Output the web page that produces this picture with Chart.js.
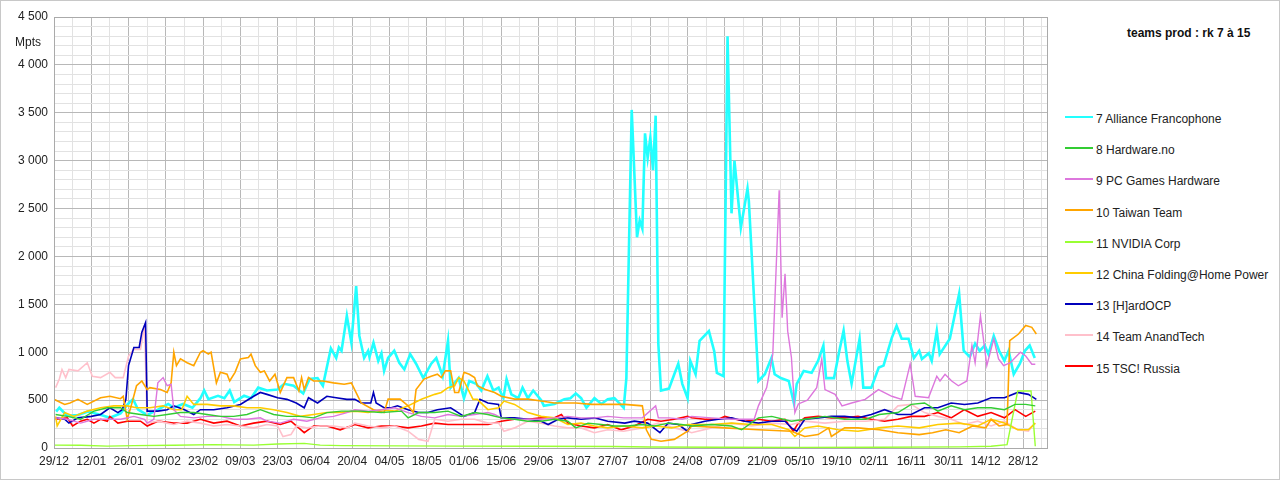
<!DOCTYPE html>
<html><head><meta charset="utf-8">
<script src="https://cdn.jsdelivr.net/npm/chart.js@4"></script>
<style>
body{margin:0;background:#fff;font-family:"Liberation Sans",Arial,sans-serif;}
#wrap{position:relative;width:1278px;height:478px;border:1px solid #c8c8c8;}
#c{position:absolute;left:0;top:0;}
#mpts{position:absolute;left:14px;top:34px;font-size:12px;color:#222;}
#title{position:absolute;left:1126px;top:25px;font-size:12px;font-weight:bold;color:#111;}
.lg{position:absolute;left:1064px;font-size:12px;color:#222;height:16px;line-height:16px;}
.lg span{display:inline-block;width:28px;height:2px;vertical-align:middle;margin-right:3px;position:relative;top:-3px;}
</style></head><body>
<div id="wrap"><canvas id="c" width="1050" height="478"></canvas>
<div id="mpts">Mpts</div><div id="title">teams prod : rk 7 à 15</div><div id="legend"></div></div>
<script>
const dateLabels=["29/12","12/01","26/01","09/02","23/02","09/03","23/03","06/04","20/04","04/05","18/05","01/06","15/06","29/06","13/07","27/07","10/08","24/08","07/09","21/09","05/10","19/10","02/11","16/11","30/11","14/12","28/12"];
const seriesNames=["7 Alliance Francophone","8 Hardware.no","9 PC Games Hardware","10 Taiwan Team","11 NVIDIA Corp","12 China Folding@Home Power","13 [H]ardOCP","14 Team AnandTech","15 TSC! Russia"];
// [day, Mpts]
const alliance=[[0.8,380],[2,420],[5,335],[9,345],[12.8,380],[17.7,345],[21,315],[25,360],[27.8,460],[29.7,510],[31.6,400],[35,345],[39,400],[42.9,460],[45,420],[48.5,460],[52,420],[55,520],[56.4,600],[58,510],[61.6,545],[64,520],[66,600],[67.7,480],[71.4,545],[74,520],[76.7,630],[80,600],[84,610],[86.5,670],[90,650],[93.6,570],[96,720],[99,730],[101,650],[104,1040],[106,940],[107,1050],[108,1015],[110,1380],[111.7,1100],[113.5,1690],[114.7,1170],[116.5,940],[118,1015],[118.5,950],[120,1100],[121.8,910],[123,990],[124,805],[125.5,940],[127.8,1015],[129.7,890],[131.6,820],[133.8,980],[136,880],[138.7,730],[141.7,880],[143.6,940],[146,750],[148,1120],[149,630],[152,730],[154,520],[156,700],[158.6,670],[160.5,600],[162.8,750],[165,600],[167,630],[168.8,520],[170,720],[171.8,560],[174.4,520],[176,630],[178,520],[180,600],[183,500],[184,440],[188,460],[191.7,510],[194,520],[196,570],[198,520],[200,420],[203,520],[205.6,460],[208,510],[210.5,520],[214,420],[215,730],[217,3530],[219,2200],[220,2375],[221,2290],[222,3285],[223,3030],[224,3240],[225,2900],[226,3470],[227,1090],[228,600],[231,620],[233,770],[234.5,880],[236,670],[238,520],[239,910],[241,770],[242.5,1120],[246,1220],[248,1010],[249,785],[251.5,750],[253,4300],[254.5,2450],[255.6,3000],[258,2300],[260.5,2710],[261,2580],[264.6,700],[267,770],[269.5,940],[270.7,770],[273,730],[276,700],[278,460],[279,670],[281.6,805],[284.6,785],[287,910],[289,1070],[290,730],[293,730],[295,1015],[296.6,1225],[298,910],[299.6,670],[302.6,1140],[304,630],[307,630],[309.8,840],[311.6,860],[314.7,1150],[316.5,1275],[318.4,1140],[321,1140],[323,940],[325,1015],[326,930],[328.6,990],[329.7,910],[331.6,1225],[332.7,980],[336.5,1140],[340,1610],[341.7,1015],[344,950],[346,1090],[347.7,1015],[349.6,1070],[351,980],[353,1170],[355,1015],[357,910],[358.6,1015],[360.5,770],[362.8,880],[364.7,1015],[366.5,1070],[368.4,940]];
const hardwareNo=[[0.6,350],[5,330],[10,300],[15,385],[20,420],[25,420],[27.5,370],[32.5,350],[37.5,330],[42.5,350],[47.5,370],[52.5,370],[57.5,350],[62.5,330],[67.5,330],[72.5,350],[77.5,400],[82.5,350],[87.5,330],[92.5,330],[97.5,315],[102.5,370],[108,385],[115,385],[123,370],[130.5,385],[133,315],[137,370],[143,370],[148,385],[153,330],[158,370],[163,350],[168,315],[173,300],[178,280],[183,280],[188,300],[193,280],[196,210],[200.6,260],[205.6,245],[210.6,230],[215.6,230],[220.6,245],[225.7,230],[230.7,260],[235.7,245],[239.5,230],[247,245],[254.5,230],[258.3,190],[264.6,315],[269.6,330],[277,280],[282,300],[289.6,330],[297,300],[305,300],[310,350],[317,370],[322,455],[327,470],[332,385],[337,440],[342,400],[347,420],[352,420],[357,400],[361,455],[365,455],[368.6,440]];
const pcgh=[[0.6,315],[5,300],[10,260],[15,300],[20,300],[25,300],[30,330],[34,300],[35,260],[37.5,300],[39,680],[41,735],[42.5,650],[44,665],[45,400],[47.5,330],[52.5,315],[57.5,330],[62.5,330],[67.5,300],[72.5,300],[77.5,315],[80,280],[85,260],[90,300],[95,280],[100,315],[105,330],[110,370],[113,400],[118,385],[123,400],[128,420],[133,370],[138,330],[143,315],[148,350],[153,330],[158,350],[163,370],[165.5,350],[168,315],[173,300],[178,300],[183,300],[188,315],[193,330],[198,315],[203,315],[208,330],[214,315],[221,315],[226,440],[227,315],[231,315],[236,300],[239.5,330],[247,315],[254.5,300],[263,300],[264.6,440],[267.7,630],[270,980],[272.4,2690],[273.5,1360],[274.6,1820],[275.6,1220],[277,945],[278.3,370],[279.6,460],[283,500],[286.5,630],[288.4,930],[289.6,610],[293.4,560],[296,440],[299.6,470],[304.7,508],[309.7,610],[314.7,540],[318.4,508],[321.6,875],[323.5,540],[328.5,525],[331.6,750],[332.8,700],[334.7,770],[337.2,700],[339.7,650],[342.9,700],[344.8,1070],[346,890],[348,1380],[350.4,860],[353,1140],[354.8,930],[356.7,860],[359.2,890],[363,1000],[365,960],[367.3,875],[368.6,875]];
const taiwan=[[0,508],[4,455],[6,470],[9,508],[12.5,455],[17.5,525],[21,540],[25,515],[26,540],[27.5,300],[29,440],[31,650],[33,700],[35,610],[36,630],[40,610],[42.5,580],[44,680],[45,1000],[46,860],[47.5,930],[50,890],[52.5,860],[55,1000],[56,1015],[58,980],[59,1000],[61,680],[62.5,790],[65,770],[66,700],[68,790],[70,930],[73,945],[74,980],[75.6,860],[77.5,790],[79,805],[81,700],[83,770],[85,580],[87.5,735],[90,735],[92,595],[93,735],[94,610],[95.6,735],[97.5,700],[101,700],[105,680],[109,665],[111.7,680],[115.4,470],[120,400],[124,370],[125.5,510],[130,510],[133,440],[135,370],[136,610],[139,720],[141.7,750],[144,770],[145.5,735],[147,805],[149,805],[150.5,580],[152,580],[154,790],[156,770],[158,735],[159,650],[162,610],[165.5,580],[168,540],[173,510],[178,510],[183,490],[188,470],[196,470],[202,455],[208,455],[214.4,455],[221,440],[222.5,190],[224.4,90],[228,70],[233,90],[238,175],[239.5,230],[252,210],[264.6,190],[277,175],[282,120],[287,140],[291,210],[292,120],[297,210],[302,210],[310,190],[317,160],[325,140],[330,160],[335,190],[340,160],[345,230],[350,210],[352,300],[355,230],[358,245],[359,1120],[362.3,1190],[365,1280],[367.3,1260],[369,1190]];
const nvidia=[[0,30],[10,28],[20,20],[30,25],[45,28],[60,35],[75,30],[84,42],[94,48],[100,30],[108,25],[130,22],[150,20],[180,18],[210,15],[224,10],[250,8],[280,5],[310,8],[340,12],[352,18],[358,35],[362,595],[367,595],[368.6,18]];
const china=[[0.6,330],[1.2,230],[4,370],[7.5,330],[12.5,385],[17.5,420],[22.5,440],[27.5,440],[31,420],[36,420],[41,440],[45,400],[48,400],[50,540],[52.5,455],[57.5,455],[62.5,440],[67.5,440],[72.5,420],[77.5,420],[82.5,400],[87.5,370],[92.5,330],[97.5,350],[102.5,370],[108,370],[113,385],[118,370],[123,400],[128,385],[133,440],[138,508],[143,560],[145.5,580],[148,630],[150.5,650],[152,735],[154,700],[157.4,508],[159,508],[163,400],[167,420],[169,490],[173,455],[178,370],[183,330],[188,315],[193,245],[198,260],[203,230],[208,210],[214,230],[221,210],[226,230],[232,210],[238,245],[247,245],[254.5,260],[262,245],[269.6,245],[276,190],[278.3,120],[282,210],[287,230],[294.6,190],[302,175],[310,210],[317,230],[325,210],[332,245],[340,260],[347,230],[352,300],[357,260],[362,190],[366,190],[368.6,260]];
const hardocp=[[0.6,315],[4,300],[5.6,260],[9,315],[14,330],[17.5,350],[21,420],[24,370],[25.6,400],[27,508],[28,860],[30,1050],[32,1050],[33,1210],[34.4,1310],[35,385],[39,385],[42.5,400],[45,440],[49,400],[52.5,350],[55,400],[60,400],[65,420],[70,455],[75,540],[77.5,580],[80,560],[84,525],[87.5,508],[91,470],[94,420],[95.6,525],[99,470],[102.5,540],[106,525],[110,508],[113,508],[115.4,470],[119,470],[120,580],[121,470],[124,420],[126.7,420],[129,440],[133,400],[137,370],[140.5,370],[144,400],[149,420],[154,330],[158,370],[160,508],[163,470],[167,455],[168,315],[173,315],[178,300],[183,280],[185.6,245],[189.4,300],[193,315],[198,300],[203,315],[208,280],[214.4,260],[218,280],[223,260],[227.6,160],[230.7,260],[234.5,245],[238,175],[239.5,245],[244.5,280],[249.5,300],[254.5,315],[259.5,280],[264.6,260],[269.6,280],[274.6,280],[277,210],[279,175],[282,300],[287,315],[292,330],[297,330],[302,315],[307,350],[312,400],[317,350],[322,350],[327,420],[332,420],[337,470],[342,455],[347,470],[352,525],[357,525],[362,580],[366,560],[369,508]];
const anandtech=[[0.6,630],[2,720],[3,820],[4.4,735],[5.6,820],[9,805],[12.5,890],[14.4,750],[17.5,735],[21,790],[23,735],[26,735],[28,960],[30,1030],[32.5,1030],[34,1280],[35,260],[39,280],[42.5,260],[45,245],[50,280],[55,260],[60,230],[65,245],[70,230],[75,210],[80,245],[84,230],[86,120],[89,140],[91,230],[95,210],[100,230],[105,230],[110,210],[113,260],[118,230],[123,210],[128,230],[133,175],[137,90],[140.5,70],[143,300],[148,280],[153,300],[158,300],[163,260],[167,260],[169,175],[173,210],[178,280],[183,260],[188,230],[193,210],[198,210],[203,160],[208,190],[214,175],[221,210],[227,260],[233,210],[238,175],[239.5,160],[247,210],[254.5,260],[262,230],[269.6,260],[277,245],[282,280],[289.6,260],[297,280],[305,280],[312,300],[317,440],[322,455],[327,370],[332,330],[337,300],[342,245],[347,280],[352,230],[357,280],[362,190],[366,175],[368.6,260]];
const tscRussia=[[0.6,300],[5,315],[7,230],[10,280],[12.5,300],[15,260],[17.5,300],[20,280],[21,330],[24,260],[27.5,280],[32.5,280],[35,230],[39,280],[45,260],[50,260],[55,300],[60,260],[65,280],[70,230],[75,260],[80,280],[85,245],[89,280],[94,160],[97.5,230],[102.5,230],[107.5,190],[113,245],[118,210],[123,230],[128,230],[133,210],[138,230],[143,260],[148,245],[153,245],[158,245],[163,245],[168,280],[173,300],[178,300],[183,315],[188,315],[190.6,350],[193,260],[198,230],[203,210],[208,245],[213,190],[218,230],[223,300],[228,280],[233,300],[238,330],[239.5,315],[244.5,300],[249.5,300],[252,330],[256,300],[259.5,280],[264.6,300],[269.6,280],[274.6,300],[277.7,175],[279.6,260],[282,315],[287,330],[292,315],[297,315],[302,330],[307,300],[312,280],[317,300],[322,330],[327,330],[332,370],[337,315],[342,400],[347,330],[352,370],[357,315],[361,400],[365,330],[368.6,385]];

const allData=[alliance,hardwareNo,pcgh,taiwan,nvidia,china,hardocp,anandtech,tscRussia];
const colors=["#22ffff","#33cc33","#dd77dd","#ffa500","#99ff33","#ffcc00","#0000bb","#ffc0cb","#ff0000"];
const widths=[2.6,1.4,1.4,1.6,1.4,1.6,1.6,1.6,1.6];

const fmt=v=>String(v).replace(/\B(?=(\d{3})+(?!\d))/g,' ');
const frame={id:'frame',afterDraw(c){const a=c.chartArea,x=c.ctx;x.save();x.strokeStyle='#aaaaaa';x.lineWidth=1;x.strokeRect(a.left+0.5,a.top+0.5,a.right-a.left,a.bottom-a.top);x.restore();}};
new Chart(document.getElementById('c'),{
 type:'line',
 data:{datasets:allData.map((d,i)=>({label:seriesNames[i],data:d.map(p=>({x:p[0],y:p[1]})),borderColor:colors[i],backgroundColor:colors[i],borderWidth:widths[i],pointRadius:0,tension:0,order:i===0?10:i}))},
 options:{responsive:false,animation:false,events:[],
  layout:{padding:{top:16,right:4,left:0,bottom:0}},
  plugins:{legend:{display:false},tooltip:{enabled:false}},
  scales:{
   x:{type:'linear',min:0,max:373,
     afterBuildTicks(s){const t=[];for(let d=0;d<=371;d+=7)t.push({value:d});s.ticks=t;},
     afterFit(s){s.height=31;},
     grid:{color:c=>(c.tick&&c.tick.value%14===0)?'#b8b8b8':'#e2e2e2',drawTicks:false},
     border:{color:'#aaaaaa'},
     ticks:{autoSkip:false,maxRotation:0,padding:6,color:'#222',font:{family:'Liberation Sans',size:12},
       callback:v=>v%14===0?dateLabels[v/14]:''}},
   y:{min:0,max:4500,
     afterBuildTicks(s){const t=[];for(let v=0;v<=4500;v+=100)t.push({value:v});s.ticks=t;},
     afterFit(s){s.width=53;},
     grid:{color:c=>(c.tick&&c.tick.value%500===0)?'#b8b8b8':'#e2e2e2',drawTicks:false},
     border:{color:'#aaaaaa'},
     ticks:{autoSkip:false,padding:6,color:'#222',font:{family:'Liberation Sans',size:12},
       callback:v=>v%500===0?fmt(v):''}}
  }},
 plugins:[frame]
});
const lg=document.getElementById('legend');
seriesNames.forEach((n,i)=>{const d=document.createElement('div');d.className='lg';d.style.top=(110+i*31.2)+'px';
 d.innerHTML='<span style="background:'+colors[i]+'"></span>'+n;lg.appendChild(d);});
</script></body></html>
